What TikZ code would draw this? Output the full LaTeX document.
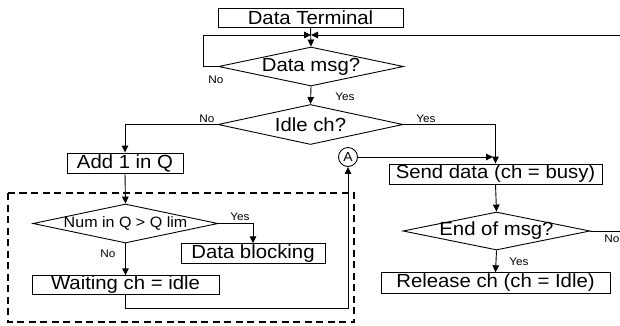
\documentclass[tikz,border=0pt]{standalone}
\usepackage{fontspec}
\setmainfont{Liberation Sans}[FakeStretch=1.07]
\usetikzlibrary{shapes.geometric,arrows.meta}
\begin{document}
\begin{tikzpicture}[x=1pt,y=-1pt, line width=0.9pt,
  box/.style={draw, rectangle, inner sep=0pt, font=\fontsize{19}{19}\selectfont},
  dia/.style={draw, diamond, inner sep=0pt, font=\fontsize{19}{19}\selectfont},
  lbl/.style={font=\fontsize{11}{11}\selectfont, inner sep=0pt},
  arr/.style={-{Triangle[length=7pt,width=6.5pt]}},
  dashbox/.style={line width=2.2pt, dash pattern=on 7pt off 4.5pt}
  ]
\useasboundingbox (0,0) rectangle (620,325);
\clip (0,0) rectangle (620,325);

\node[box, minimum width=185pt, minimum height=19pt] (term) at (310.5,17.5) {Data Terminal};
\coordinate (J) at (311,35);
\node[dia, minimum width=185pt, minimum height=39pt] (msg) at (311,66.5) {\makebox[0pt]{Data msg?}};
\node[dia, minimum width=185pt, minimum height=40pt] (idle) at (310.5,124.5) {\makebox[0pt]{Idle ch?}};
\node[box, minimum width=116pt, minimum height=20pt] (add) at (125,163) {Add 1 in Q};
\node[circle, draw, inner sep=0pt, minimum size=19pt, font=\fontsize{13}{13}\selectfont] (A) at (348,157) {A};
\node[box, minimum width=213pt, minimum height=20pt] (send) at (495.5,174) {Send data (ch = busy)};
\node[dia, minimum width=187pt, minimum height=38pt] (end) at (496.5,231) {\makebox[0pt]{End of msg?}};
\node[box, minimum width=229pt, minimum height=20.5pt] (rel) at (495.5,283) {Release ch (ch = Idle)};
\node[dia, minimum width=185pt, minimum height=39pt, font=\fontsize{15}{15}\selectfont] (num) at (125.5,223.5) {\makebox[0pt]{Num in Q > Q lim}};
\node[box, minimum width=144pt, minimum height=19.5pt] (blk) at (253,253.5) {Data blocking};
\node[box, minimum width=187pt, minimum height=18.5pt] (wait) at (125.5,285) {Waiting ch = idle};

\draw[dashbox] (8,193) rectangle (354,322);

\coordinate (lp) at (203,35);
\coordinate (rp) at (625,35);
\coordinate (ain) at (493,157);
\coordinate (bot) at (348,308);

\draw[arr] (term.south) -- (msg.north);
\draw[arr] (msg.west) -| (lp) -- (J);
\draw[arr] (end.east) -| (rp) -- (J);
\draw[arr] (msg.south) -- (idle.north);
\draw[arr] (idle.west) -| (add.north);
\draw[arr] (idle.east) -| (send.north);
\draw[arr] (A.east) -- (ain);
\draw[arr] (send.south) -- (end.north);
\draw[arr] (end.south) -- (rel.north);
\draw[arr] (add.south) -- (num.north);
\draw[arr] (num.east) -| (blk.north);
\draw[arr] (num.south) -- (wait.north);
\draw[arr] (wait.south) |- (bot) -- (A.south);

\node[lbl] (l1) at (216,80) {No};
\node[lbl] (l2) at (345,97) {Yes};
\node[lbl] (l3) at (207,119) {No};
\node[lbl] (l4) at (426,119) {Yes};
\node[lbl] (l5) at (240,217) {Yes};
\node[lbl] (l6) at (108,254) {No};
\node[lbl] (l7) at (519,262) {Yes};
\node[lbl] (l8) at (612,239) {No};
\end{tikzpicture}
\end{document}
